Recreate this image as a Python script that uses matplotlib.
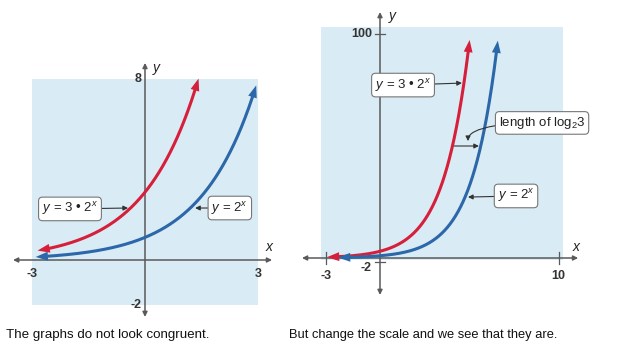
import numpy as np
import matplotlib.pyplot as plt
from matplotlib.patches import Rectangle

plt.rcParams['font.family'] = ['Liberation Sans Narrow', 'Liberation Sans', 'DejaVu Sans']
plt.rcParams['mathtext.fontset'] = 'custom'
plt.rcParams['mathtext.rm'] = 'Liberation Sans'
plt.rcParams['mathtext.it'] = 'Liberation Sans:italic'

# the two curves: y = coef * base**x
base = 2
coefs = [3, 1]
curve_labels = [r'$y$ = 3 • 2$^{x}$', r'$y$ = 2$^{x}$']

# x ranges of the drawn curves
left_ranges = [(-2.85, 1.42), (-2.9, 2.95)]
right_ranges = [(-2.97, 5.02), (-2.35, 6.6)]

# tick labels per panel
left_ticks_x = [-3, 3]
left_ticks_y = [8, -2]
right_ticks_x = [-3, 10]
right_ticks_y = [100, -2]

captions = ['The graphs do not look congruent.',
            'But change the scale and we see that they are.']

RED = '#d6203b'
BLUE = '#2b67a9'
SHADE = '#d9ebf4'
AXIS = '#5a5a5a'

W, H = 636, 353
fig = plt.figure(figsize=(W / 100, H / 100), dpi=100)


def make_axes(px_box, ox, oy, sx, sy):
    # px_box = (left, right, top, bottom) in pixels; origin (ox, oy); px per unit
    l, r, t, b = px_box
    ax = fig.add_axes([l / W, 1 - b / H, (r - l) / W, (b - t) / H])
    ax.set_xlim((l - ox) / sx, (r - ox) / sx)
    ax.set_ylim((oy - b) / sy, (oy - t) / sy)
    ax.axis('off')
    return ax


def draw_axes(ax, xr, yr):
    ax.annotate('', xy=(xr[1], 0), xytext=(xr[0], 0),
                arrowprops=dict(arrowstyle='<|-|>', color=AXIS, lw=1.1,
                                mutation_scale=7, shrinkA=0, shrinkB=0))
    ax.annotate('', xy=(0, yr[1]), xytext=(0, yr[0]),
                arrowprops=dict(arrowstyle='<|-|>', color=AXIS, lw=1.1,
                                mutation_scale=7, shrinkA=0, shrinkB=0))


def draw_curve(ax, coef, xr, color):
    xs = np.linspace(xr[0], xr[1], 600)
    ys = coef * base ** xs
    # trim the line a few pixels at each end so the arrowheads cover it
    pts = ax.transData.transform(np.column_stack([xs, ys]))
    seg = np.hypot(*np.diff(pts, axis=0).T)
    d_start = np.concatenate([[0], np.cumsum(seg)])
    d_end = d_start[-1] - d_start
    keep = (d_start > 6) & (d_end > 6)
    ax.plot(xs[keep], ys[keep], color=color, lw=2.2, solid_capstyle='butt', zorder=3)
    i0 = np.argmax(d_start > 10)
    i1 = np.where(d_end > 10)[0][-1]
    for a, b in [(i0, 0), (i1, -1)]:
        ax.annotate('', xy=(xs[b], ys[b]), xytext=(xs[a], ys[a]),
                    arrowprops=dict(arrowstyle='-|>,head_length=0.55,head_width=0.2',
                                    color=color, lw=0,
                                    mutation_scale=16, shrinkA=0, shrinkB=0),
                    zorder=4)


def label(ax, text, pos, tip, fs=9.5):
    ax.annotate(text, xy=tip, xytext=pos, ha='center', va='center', fontsize=fs,
                color='#222222', zorder=5,
                bbox=dict(boxstyle='round,pad=0.25,rounding_size=0.3',
                          fc='white', ec='#777777', lw=0.8),
                arrowprops=dict(arrowstyle='-|>', color='#333333', lw=0.8,
                                mutation_scale=7, shrinkA=0, shrinkB=0))


tick_kw = dict(fontsize=9, color='#333333', fontweight='bold')

# ---- left panel ----
axL = make_axes((5, 285, 45, 325), 145, 260, 37.7, 22.6)
axL.add_patch(Rectangle((-3, -2), 6, 10, fc=SHADE, ec='none', zorder=0))
draw_axes(axL, (-3.5, 3.37), (-2.52, 8.72))
for coef, xr, c in zip(coefs, left_ranges, [RED, BLUE]):
    draw_curve(axL, coef, xr, c)
axL.text(left_ticks_x[0], -0.35, str(left_ticks_x[0]), ha='center', va='top', **tick_kw)
axL.text(left_ticks_x[1], -0.35, str(left_ticks_x[1]), ha='center', va='top', **tick_kw)
axL.text(-0.08, left_ticks_y[0], str(left_ticks_y[0]), ha='right', va='center', **tick_kw)
axL.text(-0.08, left_ticks_y[1], str(left_ticks_y[1]), ha='right', va='center', **tick_kw)
axL.text(3.3, 0.25, 'x', ha='center', va='bottom', fontsize=10, style='italic', color='#222222')
axL.text(0.2, 8.5, 'y', ha='left', va='center', fontsize=10, style='italic', color='#222222')
label(axL, curve_labels[0], (-1.99, 2.26), (-0.45, 2.3))
label(axL, curve_labels[1], (2.25, 2.3), (1.33, 2.3))

# ---- right panel ----
axR = make_axes((295, 630, 5, 300), 380, 258, 17.85, 2.24)
axR.add_patch(Rectangle((-3.3, -0.9), 13.55, 103.9, fc=SHADE, ec='none', zorder=0))
draw_axes(axR, (-4.37, 11.1), (-16.5, 109.8))
for coef, xr, c in zip(coefs, right_ranges, [RED, BLUE]):
    draw_curve(axR, coef, xr, c)
for tx in right_ticks_x:
    axR.plot([tx, tx], [-2.6, 2.6], color=AXIS, lw=0.9, zorder=2)
    axR.text(tx, -5.5, str(tx), ha='center', va='top', **tick_kw)
for ty in right_ticks_y:
    axR.plot([-0.3, 0.3], [ty, ty], color=AXIS, lw=0.9, zorder=2)
axR.text(-0.45, right_ticks_y[0], str(right_ticks_y[0]), ha='right', va='center', **tick_kw)
axR.text(-0.45, -4.3, str(right_ticks_y[1]), ha='right', va='center', **tick_kw)
axR.text(11.0, 2.0, 'x', ha='center', va='bottom', fontsize=10, style='italic', color='#222222')
axR.text(0.5, 108, 'y', ha='left', va='center', fontsize=10, style='italic', color='#222222')
label(axR, curve_labels[0], (1.29, 77.2), (4.59, 78.1))
label(axR, curve_labels[1], (7.62, 27.7), (4.93, 27.2))

# horizontal shift between the curves at y = 50
y_mark = 50
x_red = np.log2(y_mark / coefs[0])
x_blue = np.log2(y_mark / coefs[1])
axR.annotate('', xy=(x_blue - 0.1, y_mark), xytext=(x_red + 0.1, y_mark),
             arrowprops=dict(arrowstyle='-|>', color='#333333', lw=0.8,
                             mutation_scale=7, shrinkA=0, shrinkB=0), zorder=5)
axR.annotate(r'length of log$_2$3', xy=(4.93, 52.2), xytext=(9.08, 60.3),
             ha='center', va='center', fontsize=9.5, color='#222222', zorder=5,
             bbox=dict(boxstyle='round,pad=0.25,rounding_size=0.3',
                       fc='white', ec='#777777', lw=0.8),
             arrowprops=dict(arrowstyle='-|>', color='#333333', lw=0.8,
                             mutation_scale=7, shrinkA=0, shrinkB=0,
                             connectionstyle='angle3,angleA=0,angleB=90'))

# ---- captions ----
fig.text(6 / W, 1 - 335 / H, captions[0], ha='left', va='center', fontsize=9.6,
         family='Liberation Sans', color='#111111')
fig.text(289 / W, 1 - 335 / H, captions[1], ha='left', va='center', fontsize=9.3,
         family='Liberation Sans', color='#111111')

fig.savefig('out.png', dpi=100, facecolor='white')
